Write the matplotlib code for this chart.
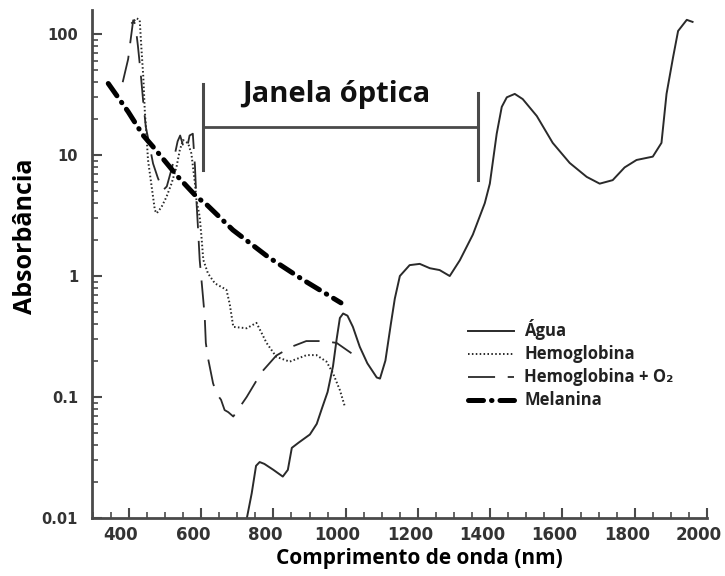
import numpy as np
import matplotlib
matplotlib.use("Agg")
import matplotlib.pyplot as plt
from matplotlib.ticker import FixedLocator, MultipleLocator, LogLocator, NullFormatter
from matplotlib.transforms import ScaledTranslation

# data (nm, absorbance)
agua_nm = [722, 740, 752, 762, 775, 800, 826, 840, 851, 870, 901, 920, 934, 950, 965, 975,
           984, 993, 1005, 1020, 1039, 1060, 1086, 1095, 1110, 1125, 1136, 1150, 1177, 1205,
           1233, 1260, 1288, 1316, 1352, 1385, 1399, 1418, 1432, 1446, 1468, 1490, 1529,
           1573, 1620, 1667, 1703, 1739, 1772, 1805, 1850, 1874, 1888, 1906, 1920, 1944, 1960]
agua_abs = [0.0085, 0.016, 0.027, 0.029, 0.028, 0.025, 0.022, 0.025, 0.038, 0.042, 0.049,
            0.06, 0.08, 0.11, 0.18, 0.30, 0.45, 0.49, 0.47, 0.38, 0.26, 0.19, 0.145, 0.142,
            0.2, 0.4, 0.65, 1.0, 1.23, 1.26, 1.16, 1.12, 1.0, 1.35, 2.2, 4.0, 5.8, 15, 25, 30,
            32, 29, 21, 12.6, 8.6, 6.6, 5.8, 6.2, 7.9, 9.1, 9.7, 12.6, 32, 64, 106, 131, 126]

hb_nm = [407, 421, 430, 435, 440, 444, 449, 453, 463, 472, 477, 490, 504, 518, 532, 541,
         550, 564, 573, 583, 587, 596, 601, 606, 619, 638, 670, 679, 689, 726, 753, 767,
         781, 808, 845, 892, 919, 947, 965, 984, 998]
hb_abs = [122, 135, 131, 74, 44, 23.5, 14.2, 9.1, 5.5, 3.5, 3.3, 3.7, 4.5, 5.8, 8.0, 11,
          13.3, 12.5, 10.3, 5.8, 4.25, 3.1, 2.1, 1.36, 1.05, 0.87, 0.77, 0.59, 0.38, 0.37,
          0.41, 0.34, 0.28, 0.215, 0.196, 0.222, 0.222, 0.196, 0.157, 0.114, 0.083]

hbo2_nm = [383, 398, 405, 412, 418, 425, 432, 440, 447, 455, 467, 480, 494, 505, 520, 535,
           542, 550, 560, 568, 577, 583, 587, 592, 596, 600, 606, 610, 613, 619, 633, 643,
           655, 665, 675, 689, 726, 767, 808, 850, 891, 937, 975, 1016]
hbo2_abs = [40, 62, 90, 130, 120, 80, 50, 27, 17, 13, 8.5, 6.5, 5.1, 5.5, 8, 13, 14.5, 12,
            11, 14.5, 15, 8, 4.2, 2.3, 1.36, 1.0, 0.63, 0.46, 0.28, 0.21, 0.13, 0.106, 0.095,
            0.078, 0.075, 0.069, 0.1, 0.16, 0.22, 0.26, 0.29, 0.29, 0.28, 0.23]

mel_nm = [343, 398, 439, 467, 536, 588, 615, 688, 785, 882, 987]
mel_abs = [39, 22.8, 14.6, 11.7, 6.6, 4.5, 3.9, 2.4, 1.44, 0.93, 0.6]

# optical window bracket
janela_x = [605, 1365]
janela_y = 17

ink = "#2a2a2a"
axis_c = "#4a4a4a"
fam = ["Open Sans", "DejaVu Sans"]

fig = plt.figure(figsize=(7.25, 5.76), dpi=100)
ax = fig.add_axes([92 / 725, 58 / 576, 615 / 725, 508 / 576])

ax.plot(agua_nm, agua_abs, color=ink, lw=1.4, label="Água")
ax.plot(hb_nm, hb_abs, color=ink, lw=1.4, dashes=(0.8, 1.2), label="Hemoglobina")
ax.plot(hbo2_nm, hbo2_abs, color=ink, lw=1.3, dashes=(15, 7), label="Hemoglobina + O\u2082")
ax.plot(mel_nm, mel_abs, color="black", lw=3.6, dashes=(3, 1.6, 0.1, 1.6),
        dash_capstyle="round", label="Melanina")

# Janela óptica bracket
ax.plot(janela_x, [janela_y, janela_y], color=axis_c, lw=2)
ax.plot([janela_x[0], janela_x[0]], [7.5, 39], color=axis_c, lw=2.2)
ax.plot([janela_x[1], janela_x[1]], [6.2, 32.5], color=axis_c, lw=2.2)
ax.text(713, 27.4, "Janela óptica", fontsize=21, fontweight="bold",
        family=fam, color="#111111", ha="left", va="baseline")

ax.set_yscale("log")
ax.set_xlim(298, 2000)
ax.set_ylim(0.01, 158)

ax.xaxis.set_minor_locator(MultipleLocator(50))
ax.set_xticks([400, 600, 800, 1000, 1200, 1400, 1600, 1800, 2000])
ax.set_xticklabels(["400", "600", "800", "1000", "1200", "1400", "1600", "1800", "2000"])
ax.yaxis.set_major_locator(FixedLocator([0.01, 0.1, 1, 10, 100]))
ax.yaxis.set_minor_locator(LogLocator(base=10, subs=np.arange(2, 10)))
ax.yaxis.set_minor_formatter(NullFormatter())
ax.set_yticklabels(["0.01", "0.1", "1", "10", "100"])

for side in ["top", "right"]:
    ax.spines[side].set_visible(False)
for side in ["left", "bottom"]:
    ax.spines[side].set_color(axis_c)
    ax.spines[side].set_linewidth(2)

ax.tick_params(which="major", direction="in", length=7, width=1.5, color=axis_c)
ax.tick_params(which="minor", direction="in", length=4, width=1.2, color=axis_c)
ax.tick_params(axis="x", which="major", labelsize=12, pad=6, labelcolor="#333333")
ax.tick_params(axis="y", which="major", labelsize=10.5, pad=10, labelcolor="#333333")
shift = ScaledTranslation(-0.08, 0, fig.dpi_scale_trans)
for lab in ax.get_xticklabels():
    lab.set_fontweight("bold")
    lab.set_transform(lab.get_transform() + shift)
for lab in ax.get_yticklabels():
    lab.set_fontweight("bold")

ax.set_xlabel("Comprimento de onda (nm)", fontsize=15, fontweight="bold", family=fam)
ax.xaxis.set_label_coords(0.532, -0.06)
ax.set_ylabel("Absorbância", fontsize=18, fontweight="bold", family=fam)
ax.yaxis.set_label_coords(-0.088, 0.555)

leg = ax.legend(loc="upper left", bbox_to_anchor=(0.611, 0.391), frameon=False,
                borderpad=0, borderaxespad=0,
                handlelength=2.8, handletextpad=0.6, labelspacing=0.3,
                prop={"family": fam, "weight": "bold", "size": 12})
for t in leg.get_texts():
    t.set_color("#222222")

fig.savefig("out.png", dpi=100)
